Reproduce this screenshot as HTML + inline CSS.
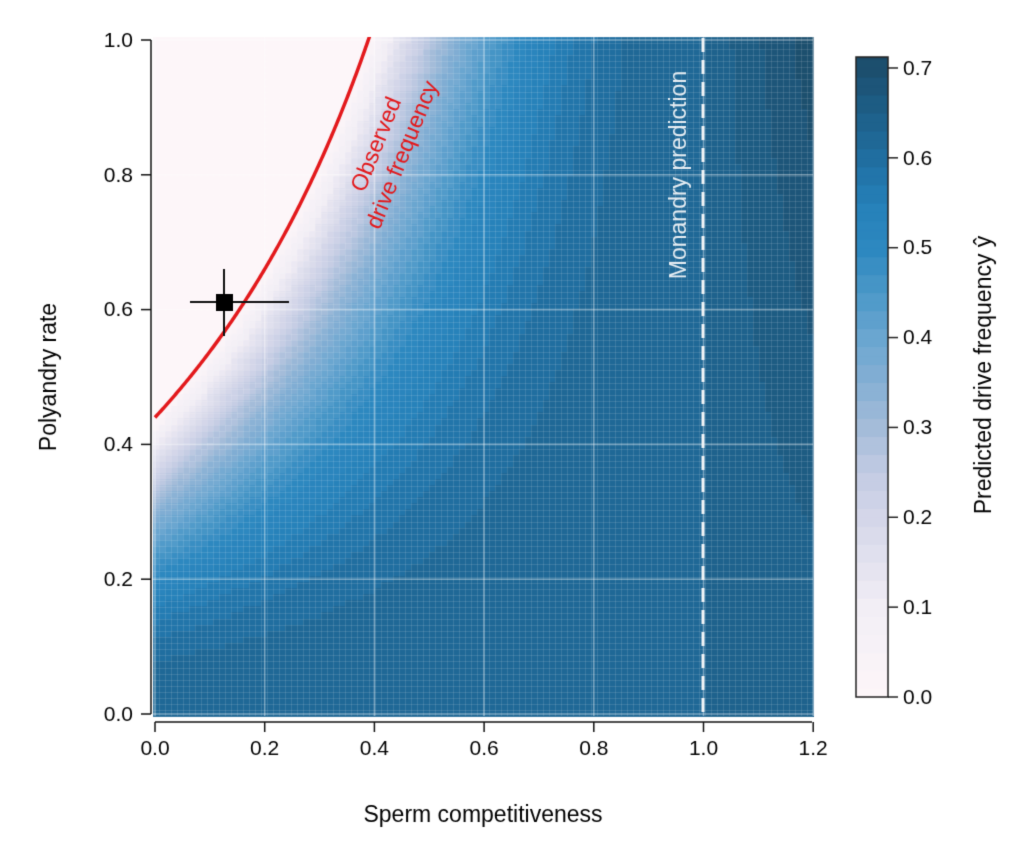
<!DOCTYPE html>
<html><head><meta charset="utf-8"><style>
html,body{margin:0;padding:0;background:#fff;}
#wrap{position:relative;width:1023px;height:863px;overflow:hidden;font-family:"Liberation Sans",sans-serif;}
canvas{position:absolute;left:0;top:0;}
</style></head><body><div id="wrap"><canvas id="c" width="1023" height="863"></canvas></div>
<script>
const c=document.getElementById('c'),g=c.getContext('2d');
const X=s=>155+s*548.5, Y=p=>714-p*674;
const stops=[[0,[253,246,249]],[0.1,[242,238,245]],[0.2,[212,214,233]],[0.25,[194,203,227]],[0.3,[164,188,217]],[0.35,[133,175,212]],[0.4,[106,166,208]],[0.45,[75,152,200]],[0.5,[45,136,192]],[0.55,[37,128,184]],[0.6,[32,110,160]],[0.65,[29,95,136]],[0.72,[28,72,100]]];
function col(v){v=Math.max(0,Math.min(0.72,v));for(let i=1;i<stops.length;i++){if(v<=stops[i][0]){const a=stops[i-1],b=stops[i],t=(v-a[0])/(b[0]-a[0]);return 'rgb('+a[1].map((x,k)=>Math.round(x+(b[1][k]-x)*t)).join(',')+')';}}return 'rgb(28,72,100)';}
function F(s,p){const gg=2*s/(1+s);const D=1-p+p*gg;if(D<=0.56)return 0;if(D<=1){const t=(D-0.56)/0.44;return 0.63*(1-(1-t)*(1-t));}return 0.63+0.8*(D-1);}
const x0=153,x1=813,y0=37,y1=716,N=110,M=112;
const cw=(x1-x0)/N,ch=(y1-y0)/M;
for(let i=0;i<N;i++)for(let j=0;j<M;j++){
 const px=x0+(i+0.5)*cw,py=y0+(j+0.5)*ch;
 const s=(px-155)/548.5,p=(714-py)/674;
 let v=F(s,p);v=Math.round(v/0.02)*0.02;
 g.fillStyle=col(v);g.fillRect(Math.floor(x0+i*cw),Math.floor(y0+j*ch),Math.ceil(cw)+1,Math.ceil(ch)+1);
}
g.strokeStyle='rgba(255,255,255,0.12)';g.lineWidth=1;
for(let i=0;i<=N;i++){const x=Math.round(x0+i*cw)+0.5;g.beginPath();g.moveTo(x,y0);g.lineTo(x,y1);g.stroke();}
for(let j=0;j<=M;j++){const y=Math.round(y0+j*ch)+0.5;g.beginPath();g.moveTo(x0,y);g.lineTo(x1,y);g.stroke();}
g.strokeStyle='rgba(255,255,255,0.4)';g.lineWidth=1.5;
for(let k=0;k<=6;k++){const x=X(k*0.2);g.beginPath();g.moveTo(x,y0);g.lineTo(x,y1);g.stroke();}
for(let k=0;k<=5;k++){const y=Y(k*0.2);g.beginPath();g.moveTo(x0,y);g.lineTo(x1,y);g.stroke();}
g.save();g.beginPath();g.rect(x0,y0,x1-x0,y1-y0);g.clip();
g.strokeStyle='#e3191c';g.lineWidth=3.5;g.beginPath();
for(let s=0;s<=0.41;s+=0.002){const p=0.44*(1+s)/(1-s);const x=X(s),y=Y(p);s===0?g.moveTo(x,y):g.lineTo(x,y);}
g.stroke();g.restore();
g.strokeStyle='#f4f6f8';g.lineWidth=3;g.setLineDash([14,8]);g.beginPath();g.moveTo(703,38);g.lineTo(703,716);g.stroke();g.setLineDash([]);
g.strokeStyle='#111';g.lineWidth=2;g.beginPath();g.moveTo(190,302);g.lineTo(289,302);g.moveTo(224,269);g.lineTo(224,336);g.stroke();
g.fillStyle='#000';g.fillRect(216,294,17,17);
g.strokeStyle='#111';g.lineWidth=1.5;
g.beginPath();g.moveTo(151,40);g.lineTo(151,714);g.stroke();
g.beginPath();g.moveTo(155,722);g.lineTo(812,722);g.stroke();
g.fillStyle='#000';g.font='21px "Liberation Sans",sans-serif';
g.textAlign='right';g.textBaseline='middle';
for(let k=0;k<=5;k++){const y=Y(k*0.2);g.beginPath();g.moveTo(141,y);g.lineTo(151,y);g.stroke();g.fillText((k*0.2).toFixed(1),133,y+1);}
g.textAlign='center';g.textBaseline='top';
for(let k=0;k<=6;k++){const x=X(k*0.2);g.beginPath();g.moveTo(x,722);g.lineTo(x,732);g.stroke();g.fillText((k*0.2).toFixed(1),x,739);}
g.font='23px "Liberation Sans",sans-serif';
g.fillText('Sperm competitiveness',483,804);
g.save();g.translate(50,377);g.rotate(-Math.PI/2);g.textBaseline='middle';g.fillText('Polyandry rate',0,0);g.restore();
const cb0=856,cb1=888,ct=57,cbot=697;
g.save();g.beginPath();g.rect(cb0,ct,cb1-cb0,cbot-ct);g.clip();
for(let v=0;v<0.74;v+=0.01){const yy=cbot-(v/0.7)*(697-68);g.fillStyle=col(Math.round((v+0.005)/0.02)*0.02);g.fillRect(cb0,yy-(629/70)-0.5,cb1-cb0,629/70+1);}
g.restore();
g.strokeStyle='#222';g.lineWidth=1.5;g.strokeRect(cb0,ct,cb1-cb0,cbot-ct);
g.font='21px "Liberation Sans",sans-serif';g.fillStyle='#000';g.textAlign='left';g.textBaseline='middle';
for(let k=0;k<=7;k++){const y=697-k*89.86;g.beginPath();g.moveTo(888,y);g.lineTo(898,y);g.stroke();g.fillText((k*0.1).toFixed(1),903,y+1);}
g.font='23px "Liberation Sans",sans-serif';
g.save();g.translate(985,375);g.rotate(-Math.PI/2);g.textAlign='center';g.textBaseline='middle';g.fillText('Predicted drive frequency ŷ',0,0);g.restore();
g.save();g.translate(390,150);g.rotate(-68*Math.PI/180);g.fillStyle='#e3191c';g.textAlign='center';g.textBaseline='middle';g.font='23px "Liberation Sans",sans-serif';
g.fillText('Observed',0,-14);g.fillText('drive frequency',0,14);g.restore();
g.save();g.translate(680,175);g.rotate(-Math.PI/2);g.fillStyle='#e6edf3';g.textAlign='center';g.textBaseline='middle';g.font='23px "Liberation Sans",sans-serif';g.fillText('Monandry prediction',0,0);g.restore();
</script></body></html>
